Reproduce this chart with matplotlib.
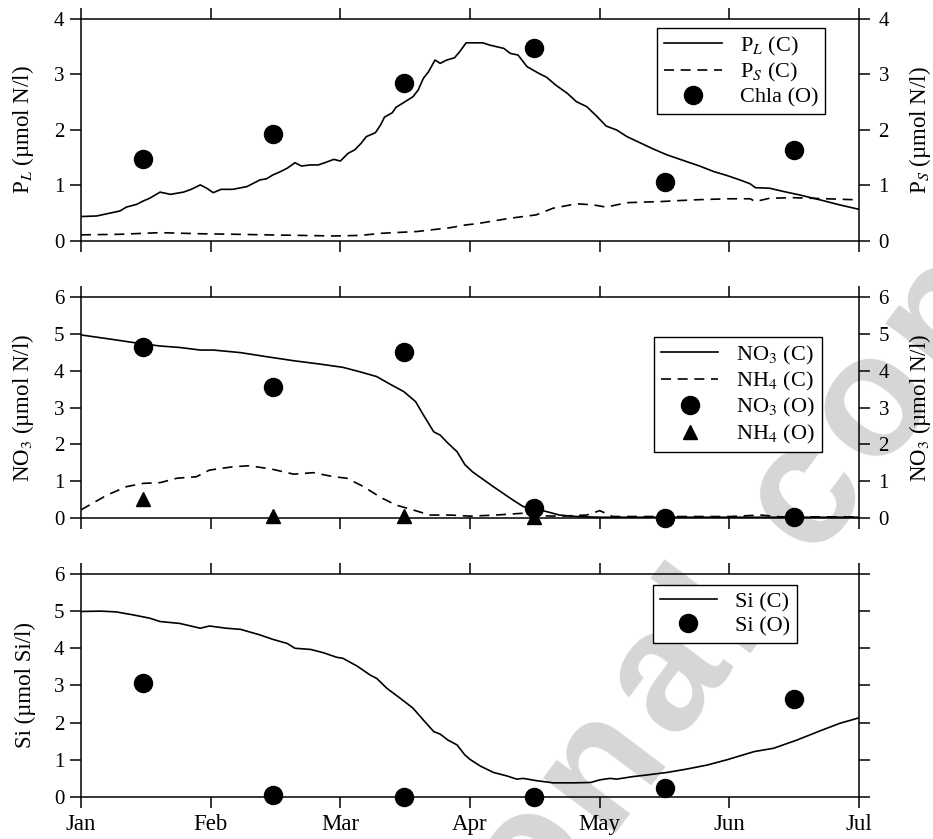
import numpy as np
import matplotlib
matplotlib.use("Agg")
import matplotlib.pyplot as plt
from matplotlib.font_manager import FontProperties
from matplotlib.textpath import TextToPath

plt.rcParams['font.family'] = ['Liberation Serif', 'DejaVu Serif']
plt.rcParams['mathtext.fontset'] = 'stix'

months = ['Jan', 'Feb', 'Mar', 'Apr', 'May', 'Jun', 'Jul']

# model curves (time in months since 1 Jan)
pl_t = [0.00, 0.12, 0.22, 0.30, 0.35, 0.43, 0.48, 0.53, 0.61, 0.69, 0.79, 0.85, 0.92, 0.97, 1.02, 1.08, 1.17,
        1.28, 1.33, 1.38, 1.43, 1.48, 1.53, 1.59, 1.65, 1.70, 1.77, 1.83, 1.88, 1.95, 2.00, 2.06, 2.11, 2.16,
        2.20, 2.27, 2.31, 2.34, 2.40, 2.43, 2.50, 2.56, 2.60, 2.64, 2.68, 2.73, 2.77, 2.82, 2.88, 2.92, 2.97,
        3.10, 3.15, 3.26, 3.31, 3.37, 3.44, 3.53, 3.59, 3.66, 3.75, 3.82, 3.90, 3.98, 4.05, 4.13, 4.21, 4.31,
        4.41, 4.52, 4.62, 4.77, 4.88, 4.98, 5.08, 5.16, 5.20, 5.31, 5.42, 5.54, 5.70, 5.85, 6.00]
pl_v = [0.44, 0.45, 0.50, 0.54, 0.61, 0.66, 0.72, 0.77, 0.88, 0.84, 0.88, 0.93, 1.01, 0.95, 0.87, 0.93, 0.93,
        0.98, 1.04, 1.10, 1.12, 1.19, 1.24, 1.31, 1.41, 1.35, 1.37, 1.37, 1.41, 1.47, 1.44, 1.58, 1.64, 1.76,
        1.88, 1.95, 2.09, 2.23, 2.31, 2.41, 2.51, 2.60, 2.72, 2.93, 3.05, 3.26, 3.20, 3.26, 3.30, 3.41, 3.57,
        3.57, 3.53, 3.47, 3.38, 3.35, 3.14, 3.02, 2.95, 2.81, 2.66, 2.51, 2.42, 2.24, 2.07, 2.00, 1.88, 1.77,
        1.66, 1.55, 1.47, 1.35, 1.25, 1.18, 1.10, 1.03, 0.96, 0.95, 0.89, 0.83, 0.74, 0.65, 0.57]

ps_t = [0.0, 0.3, 0.61, 0.92, 1.2, 1.43, 1.7, 1.95, 2.15, 2.33, 2.59, 2.85, 2.97, 3.05, 3.31, 3.51, 3.64, 3.82,
        3.95, 4.05, 4.21, 4.47, 4.72, 4.98, 5.16, 5.20, 5.31, 5.49, 5.75, 6.0]
ps_v = [0.11, 0.12, 0.15, 0.13, 0.12, 0.11, 0.10, 0.09, 0.10, 0.14, 0.17, 0.24, 0.29, 0.31, 0.41, 0.47, 0.59, 0.67,
        0.65, 0.61, 0.69, 0.71, 0.74, 0.76, 0.76, 0.71, 0.77, 0.78, 0.76, 0.74]

no3_t = [0.0, 0.22, 0.45, 0.61, 0.76, 0.92, 1.02, 1.23, 1.43, 1.64, 1.84, 2.02, 2.15, 2.28, 2.38, 2.49, 2.58, 2.64,
         2.72, 2.77, 2.83, 2.90, 2.96, 3.02, 3.10, 3.18, 3.33, 3.41, 3.54, 3.69, 3.82, 4.0, 4.5, 5.0, 5.5, 6.0]
no3_v = [4.97, 4.86, 4.74, 4.67, 4.63, 4.56, 4.56, 4.49, 4.38, 4.27, 4.18, 4.09, 3.97, 3.84, 3.64, 3.43, 3.16, 2.80,
         2.34, 2.25, 2.03, 1.80, 1.45, 1.25, 1.05, 0.85, 0.49, 0.31, 0.22, 0.08, 0.04, 0.02, 0.02, 0.02, 0.02, 0.02]

nh4_t = [0.0, 0.20, 0.35, 0.48, 0.61, 0.74, 0.89, 0.99, 1.17, 1.30, 1.48, 1.64, 1.79, 1.95, 2.05, 2.18, 2.31, 2.43,
         2.56, 2.69, 2.85, 3.0, 3.2, 3.41, 3.5, 3.7, 3.9, 4.0, 4.1, 4.5, 5.0, 5.24, 5.4, 6.0]
nh4_v = [0.22, 0.62, 0.85, 0.94, 0.96, 1.08, 1.12, 1.30, 1.39, 1.42, 1.32, 1.19, 1.23, 1.12, 1.08, 0.85, 0.56, 0.35,
         0.22, 0.08, 0.08, 0.05, 0.08, 0.13, 0.06, 0.05, 0.08, 0.20, 0.04, 0.04, 0.04, 0.08, 0.03, 0.03]

si_t = [0.0, 0.15, 0.27, 0.40, 0.53, 0.61, 0.76, 0.92, 0.99, 1.12, 1.23, 1.38, 1.48, 1.59, 1.65, 1.77, 1.87, 1.97,
        2.02, 2.13, 2.23, 2.28, 2.36, 2.46, 2.56, 2.64, 2.72, 2.77, 2.83, 2.90, 2.96, 3.0, 3.08, 3.18, 3.28, 3.36,
        3.41, 3.51, 3.64, 3.80, 3.93, 4.0, 4.08, 4.13, 4.26, 4.36, 4.52, 4.67, 4.83, 4.98, 5.19, 5.34, 5.52, 5.70,
        5.85, 6.0]
si_v = [4.99, 5.00, 4.98, 4.90, 4.81, 4.72, 4.67, 4.54, 4.60, 4.54, 4.51, 4.36, 4.24, 4.13, 4.00, 3.97, 3.88, 3.76,
        3.73, 3.52, 3.28, 3.19, 2.92, 2.66, 2.39, 2.07, 1.76, 1.69, 1.53, 1.40, 1.13, 1.01, 0.83, 0.66, 0.57, 0.48,
        0.50, 0.44, 0.38, 0.38, 0.39, 0.46, 0.50, 0.48, 0.55, 0.59, 0.66, 0.75, 0.86, 1.00, 1.22, 1.31, 1.53, 1.78,
        1.98, 2.13]

# observations (mid-month)
obs_t = [0.48, 1.48, 2.49, 3.49, 4.50, 5.50]
chla_obs = [1.47, 1.92, 2.84, 3.48, 1.07, 1.64]
no3_obs = [4.65, 3.57, 4.52, 0.26, 0.0, 0.04]
nh4_obs_t = [0.48, 1.48, 2.49, 3.49]
nh4_obs = [0.51, 0.05, 0.05, 0.04]
si_obs = [3.06, 0.05, 0.01, 0.01, 0.23, 2.64]

FW, FH, DPI = 933, 839, 100
fig = plt.figure(figsize=(FW / DPI, FH / DPI), dpi=DPI)
L, W = 0.0868, 0.834
ax1 = fig.add_axes([L, 0.7128, W, 0.2646])
ax2 = fig.add_axes([L, 0.3826, W, 0.2634])
ax3 = fig.add_axes([L, 0.0501, W, 0.2658])

lw = 1.2
dash = (6, 4)
ms = 13
leg_kw = dict(loc='upper right', fontsize=16, frameon=True, fancybox=False, edgecolor='black',
              framealpha=1, handlelength=2.6, labelspacing=0.15, borderpad=0.3, handletextpad=0.8,
              borderaxespad=0)


def style(ax, ymax, right_label=None, show_months=False):
    ax.set_facecolor('none')
    ax.set_xlim(0, 6)
    ax.set_ylim(0, ymax)
    ax.set_xticks(range(7))
    ax.set_yticks(range(ymax + 1))
    for s in ax.spines.values():
        s.set_linewidth(1.1)
    ax.tick_params(axis='both', direction='out', length=8, width=1.1, labelsize=15,
                   top=True, bottom=True, left=True, right=False, pad=4)
    if show_months:
        ax.set_xticklabels(months, fontsize=16.5)
    else:
        ax.set_xticklabels([])
    tw = ax.twinx()
    tw.set_ylim(0, ymax)
    tw.set_yticks(range(ymax + 1))
    tw.tick_params(direction='out', length=8, width=1.1, labelsize=15, pad=6)
    for s in tw.spines.values():
        s.set_visible(False)
    if right_label:
        tw.set_ylabel(right_label, fontsize=16.5)
        tw.yaxis.set_label_coords(1.062, 0.5)
    else:
        tw.set_yticklabels([])
    return tw


# panel 1: phytoplankton
style(ax1, 4, r'P$_S$ (µmol N/l)')
ax1.plot(pl_t, pl_v, color='black', lw=lw, label=r'P$_L$ (C)')
ax1.plot(ps_t, ps_v, color='black', lw=lw, dashes=dash, label=r'P$_S$ (C)')
ax1.plot(obs_t, chla_obs, 'o', color='black', ms=ms, clip_on=False, label='Chla (O)')
ax1.set_ylabel(r'P$_L$ (µmol N/l)', fontsize=16.5)
ax1.yaxis.set_label_coords(-0.058, 0.5)
ax1.legend(bbox_to_anchor=(0.956, 0.96), **leg_kw).get_frame().set_linewidth(1.0)

# panel 2: nutrients N
style(ax2, 6, r'NO$_3$ (µmol N/l)')
ax2.plot(no3_t, no3_v, color='black', lw=lw, label=r'NO$_3$ (C)')
ax2.plot(nh4_t, nh4_v, color='black', lw=lw, dashes=dash, label=r'NH$_4$ (C)')
ax2.plot(obs_t, no3_obs, 'o', color='black', ms=ms, clip_on=False, label=r'NO$_3$ (O)')
ax2.plot(nh4_obs_t, nh4_obs, '^', color='black', ms=10, clip_on=False, label=r'NH$_4$ (O)')
ax2.set_ylabel(r'NO$_3$ (µmol N/l)', fontsize=16.5)
ax2.yaxis.set_label_coords(-0.058, 0.5)
ax2.legend(bbox_to_anchor=(0.952, 0.819), **leg_kw).get_frame().set_linewidth(1.0)

# panel 3: silicate
style(ax3, 6, None, show_months=True)
ax3.plot(si_t, si_v, color='black', lw=lw, label='Si (C)')
ax3.plot(obs_t, si_obs, 'o', color='black', ms=ms, clip_on=False, label='Si (O)')
ax3.set_ylabel('Si (µmol Si/l)', fontsize=16.5)
ax3.yaxis.set_label_coords(-0.058, 0.5)
ax3.legend(bbox_to_anchor=(0.92, 0.951), **leg_kw).get_frame().set_linewidth(1.0)

# watermark, set letter by letter so the spacing can be widened
wm = 'Personal copy'
wm_size = 124
wm_track = 12          # extra px between letters
wm_ang = np.deg2rad(53)
fp = FontProperties(family='Liberation Sans', weight='bold', size=wm_size)
t2p = TextToPath()
adv = [t2p.get_text_width_height_descent(c if c != ' ' else 'n', fp, ismath=False)[0] * DPI / 72
       * (0.45 if c == ' ' else 1.0) + wm_track for c in wm]
centres = np.cumsum(adv) - np.array(adv) / 2
em = wm_size * DPI / 72
d = np.array([np.cos(wm_ang), np.sin(wm_ang)])          # along baseline (y up)
up = np.array([-np.sin(wm_ang), np.cos(wm_ang)])
ref_px = np.array([600, FH - 764])                       # centre of the 'n'
base0 = ref_px - 0.26 * em * up - centres[5] * d
for c, s in zip(wm, centres):
    if c == ' ':
        continue
    p = base0 + s * d
    fig.text(p[0] / FW, p[1] / FH, c, fontproperties=fp, color='#d6d6d6', rotation=53,
             rotation_mode='anchor', ha='center', va='baseline', zorder=-1)

fig.savefig('out.png', dpi=DPI)
